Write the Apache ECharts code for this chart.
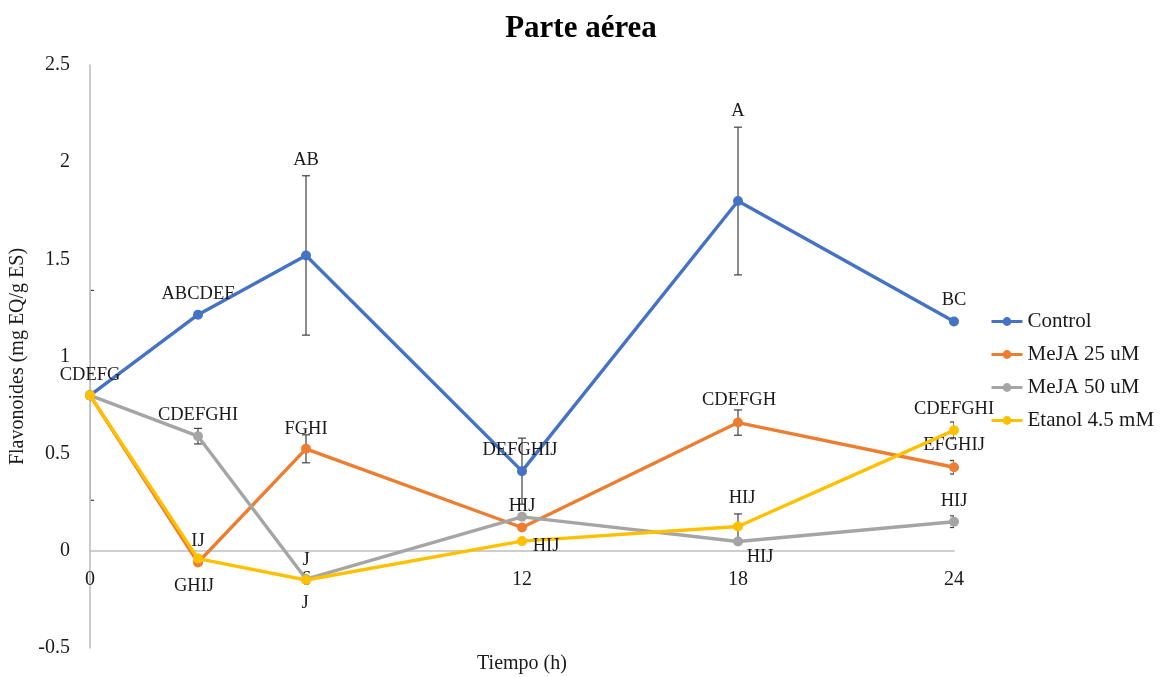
<!DOCTYPE html>
<html>
<head>
<meta charset="utf-8">
<title>Parte aérea</title>
<script src="https://cdn.jsdelivr.net/npm/echarts@6/dist/echarts.min.js"></script>
<style>
  html, body { margin: 0; padding: 0; background: #ffffff; }
  #chart { width: 1162px; height: 677px; }
</style>
</head>
<body>
<div id="chart"></div>
<script>
// Sampling times (h)
const timePoints = [0, 3, 6, 12, 18, 24];
const xTicks = [0, 6, 12, 18, 24];

// Flavonoid content (mg EQ/g ES) and standard error per treatment
const controlValues = [0.80, 1.215, 1.52, 0.41, 1.80, 1.18];
const controlErrors = [0.54, 0, 0.41, 0.17, 0.38, 0];
const meja25Values = [0.80, -0.06, 0.525, 0.12, 0.66, 0.43];
const meja25Errors = [0, 0, 0.072, 0, 0.065, 0.035];
const meja50Values = [0.80, 0.59, -0.145, 0.175, 0.048, 0.15];
const meja50Errors = [0, 0.04, 0, 0, 0, 0.03];
const etanolValues = [0.80, -0.04, -0.15, 0.05, 0.125, 0.62];
const etanolErrors = [0, 0, 0, 0, 0.065, 0.043];

// Significance letters (Tukey grouping)
const controlLetters = ['CDEFG', 'ABCDEF', 'AB', 'DEFGHIJ', 'A', 'BC'];
const meja25Letters = ['', 'GHIJ', 'FGHI', 'HIJ', 'CDEFGH', 'EFGHIJ'];
const meja50Letters = ['', 'CDEFGHI', 'J', '', 'HIJ', 'HIJ'];
const etanolLetters = ['', 'IJ', 'J', 'HIJ', 'HIJ', 'CDEFGHI'];

const seriesNames = ['Control', 'MeJA 25 uM', 'MeJA 50 uM', 'Etanol 4.5 mM'];
const seriesColors = ['#4472C4', '#ED7D31', '#A5A5A5', '#FFC000'];

// Where each letter sits relative to its point (px)
const letterOffsets = [
  [[0, -20], [0, -21], [0, -95], [-2, -21], [0, -90], [0, -21]],
  [null, [-4, 24], [0, -20], [0, -21], [1, -22], [0, -22]],
  [null, [0, -21], [-1, 24], null, [22, 16], [0, -21]],
  [null, [0, -17], [0, -20], [24, 5], [4, -28], [0, -21]]
];

const FONT = "'Liberation Serif', 'Times New Roman', serif";
const allValues = [controlValues, meja25Values, meja50Values, etanolValues];
const allErrors = [controlErrors, meja25Errors, meja50Errors, etanolErrors];
const allLetters = [controlLetters, meja25Letters, meja50Letters, etanolLetters];

function lineSeries(i) {
  return {
    name: seriesNames[i],
    type: 'line',
    z: 3 + i,
    symbol: 'circle',
    symbolSize: 10,
    lineStyle: { width: 3.4, color: seriesColors[i] },
    itemStyle: { color: seriesColors[i] },
    emphasis: { disabled: true },
    data: timePoints.map((t, k) => {
      const text = allLetters[i][k];
      const off = letterOffsets[i][k] || [0, 0];
      return {
        value: [t, allValues[i][k]],
        label: {
          show: !!text,
          position: 'inside',
          offset: off,
          formatter: text,
          color: '#1a1a1a',
          fontSize: 18.5,
          fontFamily: FONT
        }
      };
    })
  };
}

function errorSeries(i) {
  const data = [];
  timePoints.forEach((t, k) => {
    const e = allErrors[i][k];
    if (e > 0) data.push([t, allValues[i][k] - e, allValues[i][k] + e]);
  });
  return {
    type: 'custom',
    name: seriesNames[i] + ' error',
    z: 1,
    clip: true,
    silent: true,
    data: data,
    encode: { x: 0, y: [1, 2] },
    renderItem: function (params, api) {
      const x = api.value(0);
      const lo = api.coord([x, api.value(1)]);
      const hi = api.coord([x, api.value(2)]);
      const cap = 4;
      const style = { stroke: '#404040', lineWidth: 1.2 };
      return {
        type: 'group',
        children: [
          { type: 'line', shape: { x1: lo[0], y1: lo[1], x2: hi[0], y2: hi[1] }, style: style },
          { type: 'line', shape: { x1: lo[0] - cap, y1: lo[1], x2: lo[0] + cap, y2: lo[1] }, style: style },
          { type: 'line', shape: { x1: hi[0] - cap, y1: hi[1], x2: hi[0] + cap, y2: hi[1] }, style: style }
        ]
      };
    }
  };
}

const chart = echarts.init(document.getElementById('chart'), null, { renderer: 'canvas' });

chart.setOption({
  animation: false,
  backgroundColor: '#ffffff',
  textStyle: { fontFamily: FONT },
  title: {
    text: 'Parte aérea',
    left: 'center',
    top: 8,
    textStyle: { fontFamily: FONT, fontWeight: 'bold', fontSize: 31, color: '#000000' }
  },
  legend: {
    orient: 'vertical',
    left: 985,
    top: 306,
    itemWidth: 31,
    itemHeight: 11,
    itemGap: 12,
    lineStyle: { width: 3 },
    data: seriesNames,
    textStyle: { fontFamily: FONT, fontSize: 21, color: '#1a1a1a' }
  },
  grid: { left: 90, top: 65, width: 864, height: 583, outerBoundsMode: 'none', containLabel: false },
  xAxis: {
    type: 'value',
    min: 0,
    max: 24,
    interval: 6,
    z: 2,
    name: 'Tiempo (h)',
    nameLocation: 'middle',
    nameGap: 6,
    nameTextStyle: { fontFamily: FONT, fontSize: 20, color: '#1a1a1a' },
    axisLine: { onZero: true, lineStyle: { color: '#BFBFBF', width: 1.5 } },
    axisTick: { show: false },
    splitLine: { show: false },
    axisLabel: {
      margin: -78,
      fontFamily: FONT,
      fontSize: 20,
      color: '#1a1a1a',
      customValues: xTicks,
      formatter: v => String(v)
    }
  },
  yAxis: {
    type: 'value',
    min: -0.5,
    max: 2.5,
    interval: 0.5,
    z: 2,
    name: 'Flavonoides (mg EQ/g ES)',
    nameLocation: 'middle',
    nameGap: 57,
    nameTextStyle: { fontFamily: FONT, fontSize: 20, color: '#1a1a1a' },
    axisLine: { show: true, onZero: false, lineStyle: { color: '#BFBFBF', width: 1.6 } },
    axisTick: { show: false },
    splitLine: { show: false },
    axisLabel: {
      margin: 20,
      fontFamily: FONT,
      fontSize: 20,
      color: '#1a1a1a',
      formatter: v => String(Math.round(v * 10) / 10)
    }
  },
  series: [0, 1, 2, 3].map(errorSeries).concat([0, 1, 2, 3].map(lineSeries))
});
</script>
</body>
</html>
